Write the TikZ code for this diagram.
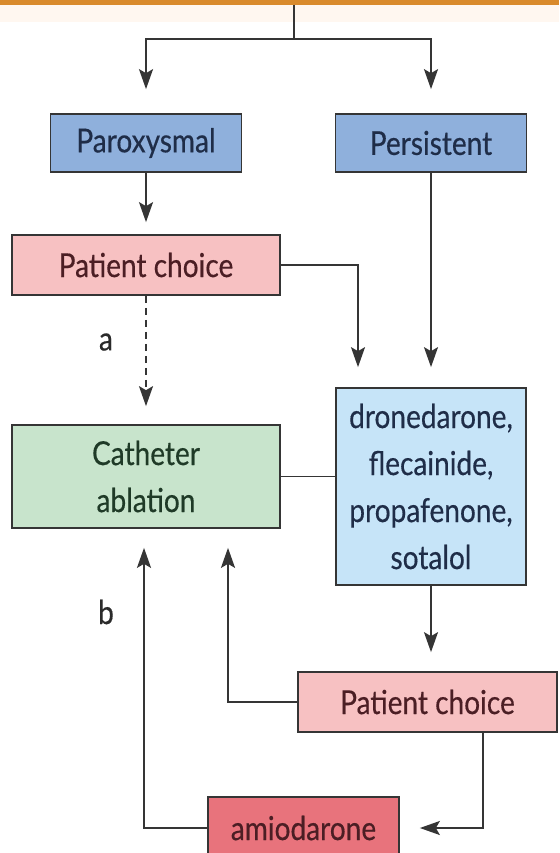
\documentclass[tikz,border=0pt]{standalone}
\usepackage{fontspec}
\setmainfont[FakeStretch=0.85,FakeBold=0.4]{Lato}
\usepackage{tikz}
\usetikzlibrary{arrows.meta}
\usetikzlibrary{positioning}

\definecolor{barorange}{HTML}{D98A2C}
\definecolor{linegray}{HTML}{353535}
\definecolor{typeblue}{HTML}{8FB0DC}
\definecolor{drugblue}{HTML}{C6E4F8}
\definecolor{choicepink}{HTML}{F7C1C2}
\definecolor{ablgreen}{HTML}{C8E4CC}
\definecolor{amired}{HTML}{E8737C}
\definecolor{navytext}{HTML}{1F2D48}
\definecolor{maroontext}{HTML}{4B1E24}
\definecolor{greentext}{HTML}{1F3A27}
\definecolor{labeltext}{HTML}{2B2B2B}

\tikzset{box/.style = {draw = linegray, line width = 1.7pt, inner sep = 0,
                       font = \fontsize{33}{47}\selectfont, align = center}}
\tikzset{arr/.style = {draw = linegray, line width = 1.7pt,
                       -{Stealth[length = 20pt, width = 14pt, inset = 4pt]}}}
\tikzset{link/.style = {draw = linegray, line width = 1.7pt}}

\begin{document}
\begin{tikzpicture}[x = 1pt, y = -1pt]
      \useasboundingbox (0, 0) rectangle (559, 853);
      \fill [white] (0, 0) rectangle (559, 853);
      \fill [orange!6] (0, 5) rectangle (559, 22);
      \fill [barorange] (0, -2) rectangle (559, 5);

      \coordinate (top) at (294, 5);
      \coordinate (split) at (294, 39);

      \node [box, fill = typeblue, text = navytext, minimum width = 191, minimum height = 58]
            (parox) at (146, 143) {Paroxysmal};
      \node [box, fill = typeblue, text = navytext, minimum width = 191, minimum height = 58]
            (persist) at (431, 143) {Persistent};
      \node [box, fill = choicepink, text = maroontext, minimum width = 268, minimum height = 60]
            (choiceA) at (146, 265) {Patient choice};
      \node [box, fill = ablgreen, text = greentext, minimum width = 268, minimum height = 103]
            (ablation) at (146, 476.5) {Catheter\\ablation};
      \node [box, fill = drugblue, text = navytext, minimum width = 190, minimum height = 197]
            (drugs) at (431, 486.5) {dronedarone,\\flecainide,\\propafenone,\\sotalol};
      \node [box, fill = choicepink, text = maroontext, minimum width = 259, minimum height = 60]
            (choiceB) at (427.5, 702) {Patient choice};
      \node [box, fill = amired, text = maroontext, minimum width = 191, minimum height = 62]
            (amio) at (303.5, 828) {amiodarone};

      \node [text = labeltext, font = \fontsize{33}{40}\selectfont] (labA) at (106, 342) {a};
      \node [text = labeltext, font = \fontsize{33}{40}\selectfont] (labB) at (106, 612) {b};

      \draw [link] (top) -- (split);
      \draw [arr, shorten > = 24pt] (split) -| (parox);
      \draw [arr, shorten > = 24pt] (split) -| (persist);
      \draw [arr, shorten > = 12pt] (parox) -- (choiceA);
      \draw [arr, shorten > = 20pt] (choiceA.east) -| ([xshift = -73pt]drugs.north);
      \draw [arr, shorten > = 20pt] (persist) -- (drugs);
      \draw [arr, dashed, dash pattern = on 7pt off 5pt, shorten > = 18pt] (choiceA) -- (ablation);
      \draw [link] (ablation.east) -- (ablation.east -| drugs.west);
      \draw [arr, shorten > = 19pt] (drugs.south) -- (drugs.south |- choiceB.north);
      \draw [arr, shorten > = 19pt] (choiceB.west) -| ([xshift = 82pt]ablation.south);
      \draw [arr, shorten > = 20pt] ([xshift = 55.5pt]choiceB.south) |- (amio.east);
      \draw [arr, shorten > = 19pt] (amio.west) -| ([xshift = -2pt]ablation.south);
    \end{tikzpicture}
\end{document}
